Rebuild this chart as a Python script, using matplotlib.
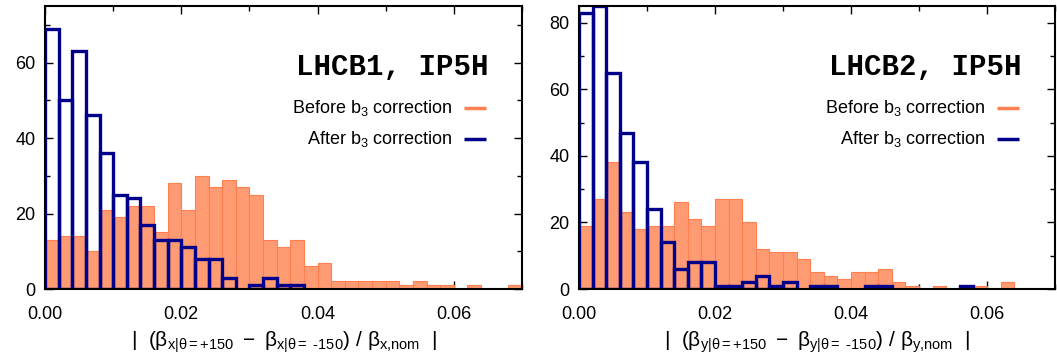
import numpy as np
import matplotlib
matplotlib.use("Agg")
import matplotlib.pyplot as plt
from matplotlib.ticker import MultipleLocator, FormatStrFormatter

plt.rcParams['font.family'] = ['Liberation Sans', 'DejaVu Sans']
plt.rcParams['mathtext.fontset'] = 'custom'
plt.rcParams['mathtext.rm'] = 'Liberation Sans'
plt.rcParams['mathtext.it'] = 'Liberation Sans:italic'
plt.rcParams['mathtext.bf'] = 'Liberation Sans:bold'

bin_width = 0.002
bin_left = np.arange(35) * bin_width

# LHCB1 (left panel)
b1_before = [13, 14, 14, 10, 21, 19, 22, 22, 15, 28, 21, 30, 27, 29, 27, 25, 13, 11,
             13, 6, 7, 2, 2, 2, 2, 2, 1, 2, 1, 1, 0, 1, 0, 0, 1]
b1_after = [69, 50, 63, 46, 36, 25, 24, 17, 13, 13, 11, 8, 8, 3, 0, 1, 3, 1,
            1, 0, 0, 0, 0, 0, 0, 0, 0, 0, 0, 0, 0, 0, 0, 0, 0]

# LHCB2 (right panel)
b2_before = [19, 27, 38, 23, 18, 19, 19, 26, 21, 19, 27, 27, 20, 12, 11, 11, 9, 5,
             4, 3, 5, 5, 6, 2, 1, 0, 1, 0, 1, 1, 0, 2, 0, 0, 0]
b2_after = [83, 85, 65, 47, 38, 24, 14, 6, 8, 8, 1, 1, 2, 4, 1, 2, 0, 1,
            1, 0, 0, 1, 1, 0, 0, 0, 0, 0, 1, 0, 0, 0, 0, 0, 0]

titles = ["LHCB1, IP5H", "LHCB2, IP5H"]
xlabels = [r"$|\ \ (\mathrm{β}_{\mathrm{x|θ=+150}}\ -\ \mathrm{β}_{\mathrm{x|θ=\ ‐150}})\ /\ \mathrm{β}_{\mathrm{x{,}nom}}\ \ |$",
           r"$|\ \ (\mathrm{β}_{\mathrm{y|θ=+150}}\ -\ \mathrm{β}_{\mathrm{y|θ=\ ‐150}})\ /\ \mathrm{β}_{\mathrm{y{,}nom}}\ \ |$"]
ymaxs = [75, 85]
leg_labels = [r"Before b$_3$ correction", r"After b$_3$ correction"]

fill_col = '#FF9B73'
edge_col = '#FF7F50'
blue = '#00008B'

fig = plt.figure(figsize=(10.57, 3.63), dpi=100)
axes = [fig.add_axes([45/1057, 74/363, 477/1057, 283/363]),
        fig.add_axes([579/1057, 74/363, 476/1057, 283/363])]

data = [(b1_before, b1_after), (b2_before, b2_after)]
for ax, (bef, aft), title, xl, ymax in zip(axes, data, titles, xlabels, ymaxs):
    bef = np.array(bef); aft = np.array(aft)
    mb = bef > 0
    ax.bar(bin_left[mb], bef[mb], width=bin_width, align='edge', color=fill_col,
           edgecolor=edge_col, linewidth=0.8, zorder=2)
    ma = aft > 0
    ax.bar(bin_left[ma], aft[ma], width=bin_width, align='edge', fill=False,
           edgecolor=blue, linewidth=2.4, zorder=3)
    ax.set_xlim(0, 0.07)
    ax.set_ylim(0, ymax)
    ax.xaxis.set_major_locator(MultipleLocator(0.02))
    ax.xaxis.set_minor_locator(MultipleLocator(0.01))
    ax.xaxis.set_major_formatter(FormatStrFormatter('%.2f'))
    ax.yaxis.set_major_locator(MultipleLocator(20))
    ax.yaxis.set_minor_locator(MultipleLocator(10))
    ax.tick_params(which='both', direction='in', top=True, right=True,
                   labelsize=13, width=1.0, color='black')
    ax.tick_params(axis='x', which='major', pad=12)
    ax.tick_params(axis='y', which='major', pad=7)
    ax.tick_params(which='major', length=6)
    ax.tick_params(which='minor', length=3.5)
    for s in ax.spines.values():
        s.set_linewidth(1.5)
        s.set_zorder(5)
    ax.set_xlabel(xl, fontsize=15, labelpad=5)
    ax.text(0.93, 0.785, title, transform=ax.transAxes, ha='right', va='center',
            fontsize=21, fontweight='bold', family='Liberation Mono')
    # gnuplot-style legend: right-aligned text, sample line to the right
    for i, (lab, col) in enumerate(zip(leg_labels, [edge_col, blue])):
        yy = 0.64 - i * 0.11
        ax.text(0.855, yy, lab, transform=ax.transAxes, ha='right', va='center',
                fontsize=13)
        ax.plot([0.878, 0.924], [yy, yy], transform=ax.transAxes, color=col,
                linewidth=2.5, solid_capstyle='butt', zorder=6)

fig.savefig('out.png', dpi=100)
